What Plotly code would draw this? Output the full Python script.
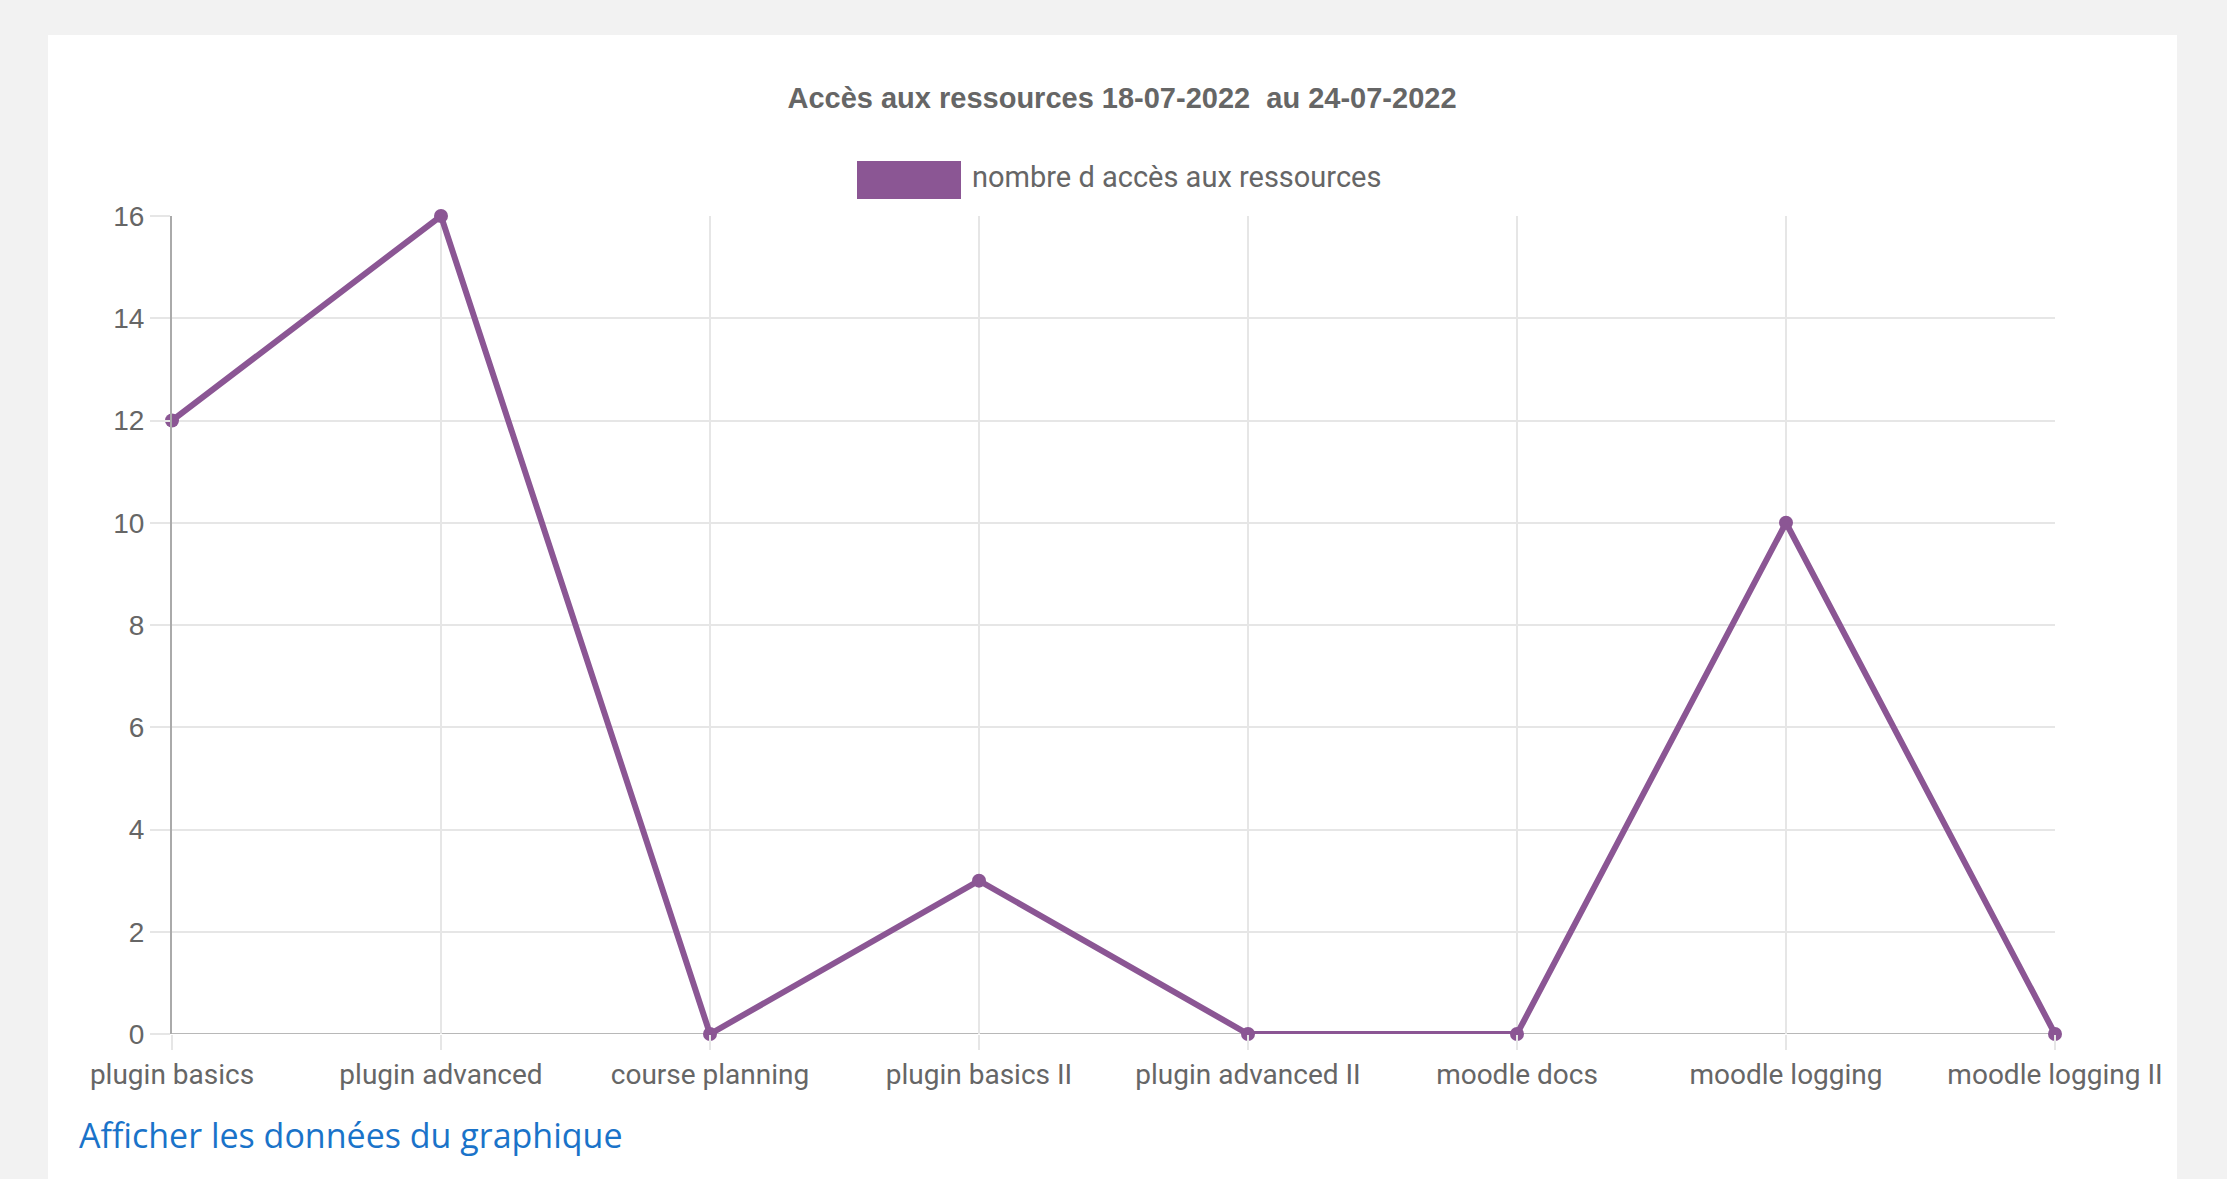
import plotly.graph_objects as go

categories = ["plugin basics", "plugin advanced", "course planning", "plugin basics II",
              "plugin advanced II", "moodle docs", "moodle logging", "moodle logging II"]
values = [12, 16, 0, 3, 0, 0, 10, 0]
series_name = "nombre d accès aux ressources"
title_text = "Accès aux ressources 18-07-2022&nbsp; au 24-07-2022"
link_text = "Afficher les données du graphique"

W, H = 2227, 1179
L, R, T, B = 172, 2055, 216, 1034
pw, ph = R - L, B - T

def px(x):
    return (x - L) / pw

def py(y):
    return (B - y) / ph

purple = "#8b5694"
grey_text = "#666666"
grid = "#e6e6e6"

fig = go.Figure()
fig.add_trace(go.Scatter(
    x=categories, y=values, mode="lines+markers", name=series_name,
    line=dict(color=purple, width=6),
    marker=dict(color=purple, size=14),
    cliponaxis=False, showlegend=False,
))

fig.update_layout(
    width=W, height=H,
    margin=dict(l=L, r=W - R, t=T, b=H - B, pad=0),
    paper_bgcolor="#f2f2f2",
    plot_bgcolor="rgba(0,0,0,0)",
    title=dict(text=title_text, x=1122 / W, y=1 - 98 / H, xanchor="center", yanchor="middle",
               font=dict(family="Liberation Sans, Arial", size=29, color=grey_text, weight="bold")),
    xaxis=dict(type="category", range=[0, len(categories) - 1], showgrid=True, gridcolor=grid,
               gridwidth=1.5, ticks="outside", ticklen=15, tickcolor=grid, tickwidth=1.5,
               showline=False, zeroline=False,
               tickfont=dict(family="Roboto", size=28, color=grey_text)),
    yaxis=dict(range=[0, 16], dtick=2, showgrid=True, gridcolor=grid, gridwidth=1.5,
               ticks="outside", ticklen=20, tickcolor=grid, tickwidth=1.5,
               showline=True, linecolor="#aaaaaa", linewidth=2, zeroline=False,
               tickfont=dict(family="Liberation Sans, Arial", size=28, color=grey_text)),
    shapes=[
        dict(type="rect", xref="paper", yref="paper", x0=px(48), x1=px(2177), y0=py(1179 + 10), y1=py(35),
             fillcolor="white", line=dict(width=0), layer="below"),
        dict(type="line", xref="paper", yref="y", x0=0, x1=1, y0=0, y1=0,
             line=dict(color="#b8b8b8", width=2), layer="below"),
        dict(type="rect", xref="paper", yref="paper", x0=px(857), x1=px(961), y0=py(199), y1=py(161),
             fillcolor=purple, line=dict(width=0)),
    ],
    annotations=[
        dict(text=series_name, xref="paper", yref="paper", x=px(970), y=py(177), xanchor="left",
             yanchor="middle", showarrow=False,
             font=dict(family="Roboto", size=29, color=grey_text)),
        dict(text=link_text, xref="paper", yref="paper", x=px(77), y=py(1135), xanchor="left",
             yanchor="middle", showarrow=False,
             font=dict(family="Open Sans", size=34, color="#1a73c9")),
    ],
)

fig.write_html("out.html", config={"displayModeBar": False},
               post_script="document.body.style.margin='0';document.body.style.overflow='hidden';")
